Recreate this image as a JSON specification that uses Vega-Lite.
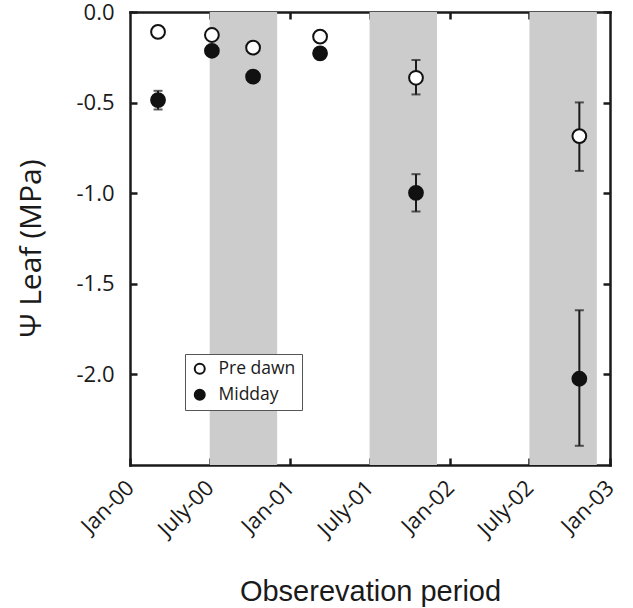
{
  "$schema": "https://vega.github.io/schema/vega-lite/v6.json",
  "width": 480,
  "height": 453,
  "autosize": {"type": "none"},
  "padding": {"left": 130, "top": 12, "right": 23, "bottom": 143},
  "background": "white",
  "config": {
    "view": {"stroke": null},
    "axis": {"labelFont": "Open Sans", "labelFontSize": 22, "labelColor": "#1a1a1a", "grid": false, "domainColor": "#1a1a1a", "domainWidth": 2.5, "domainCap": "square", "tickColor": "#1a1a1a", "tickWidth": 2.5, "tickSize": -7, "zindex": 1},
    "legend": {"labelFont": "Open Sans"}
  },
  "datasets": {
    "bands": [
      {"start": "2000-07-01", "end": "2000-12-02"},
      {"start": "2001-07-01", "end": "2001-12-02"},
      {"start": "2002-07-01", "end": "2002-12-02"}
    ],
    "points": [
      {"date": "2000-03-05", "series": "Pre dawn", "value": -0.11},
      {"date": "2000-07-06", "series": "Pre dawn", "value": -0.127},
      {"date": "2000-10-08", "series": "Pre dawn", "value": -0.197},
      {"date": "2001-03-10", "series": "Pre dawn", "value": -0.136},
      {"date": "2001-10-15", "series": "Pre dawn", "value": -0.363, "lo": -0.455, "hi": -0.265},
      {"date": "2002-10-23", "series": "Pre dawn", "value": -0.685, "lo": -0.877, "hi": -0.499},
      {"date": "2000-03-05", "series": "Midday", "value": -0.486, "lo": -0.538, "hi": -0.435},
      {"date": "2000-07-06", "series": "Midday", "value": -0.214},
      {"date": "2000-10-08", "series": "Midday", "value": -0.357},
      {"date": "2001-03-10", "series": "Midday", "value": -0.228},
      {"date": "2001-10-15", "series": "Midday", "value": -0.998, "lo": -1.101, "hi": -0.895},
      {"date": "2002-10-23", "series": "Midday", "value": -2.024, "lo": -2.394, "hi": -1.646}
    ]
  },
  "resolve": {"axis": {"x": "independent", "y": "independent"}},
  "layer": [
    {
      "data": {"name": "bands"},
      "mark": {"type": "rect", "color": "#cccccc"},
      "encoding": {
        "x": {"field": "start", "type": "temporal",
          "scale": {"type": "utc", "domain": [{"year": 2000, "month": 1, "date": 1, "utc": true}, {"year": 2003, "month": 1, "date": 1, "utc": true}]},
          "axis": {"orient": "bottom", "title": "Obserevation period",
            "values": [{"year": 2000, "month": 1, "date": 1, "utc": true}, {"year": 2000, "month": 7, "date": 1, "utc": true}, {"year": 2001, "month": 1, "date": 1, "utc": true}, {"year": 2001, "month": 7, "date": 1, "utc": true}, {"year": 2002, "month": 1, "date": 1, "utc": true}, {"year": 2002, "month": 7, "date": 1, "utc": true}, {"year": 2003, "month": 1, "date": 1, "utc": true}],
            "labelExpr": "(utcFormat(datum.value, '%m') == '07' ? 'July-' : 'Jan-') + utcFormat(datum.value, '%y')",
            "labelAngle": -45, "labelAlign": "right", "labelBaseline": "middle", "labelPadding": 26, "labelFontSize": 22,
            "titleFont": "Liberation Sans", "titleFontSize": 29, "titleFontWeight": "normal", "titleColor": "#1a1a1a",
            "titleX": 240, "titleY": 135, "titleBaseline": "alphabetic", "titleAlign": "center"}},
        "x2": {"field": "end"}
      }
    },
    {
      "data": {"name": "points"},
      "transform": [{"filter": "isValid(datum.lo)"}],
      "mark": {"type": "rule", "color": "#1a1a1a", "strokeWidth": 2},
      "encoding": {
        "x": {"field": "date", "type": "temporal",
          "axis": {"orient": "top", "labels": false, "title": null,
            "values": [{"year": 2000, "month": 7, "date": 1, "utc": true}, {"year": 2001, "month": 1, "date": 1, "utc": true}, {"year": 2001, "month": 7, "date": 1, "utc": true}, {"year": 2002, "month": 1, "date": 1, "utc": true}, {"year": 2002, "month": 7, "date": 1, "utc": true}]}},
        "y": {"field": "lo", "type": "quantitative",
          "scale": {"domain": [-2.5, 0], "nice": false, "zero": false},
          "axis": {"orient": "left", "values": [0, -0.5, -1, -1.5, -2],
            "labelExpr": "datum.value == 0 ? '0.0' : '-' + format(-datum.value, '.1f')",
            "labelPadding": 23,
            "title": "Ψ Leaf (MPa)", "titleFont": "Open Sans", "titleFontSize": 30, "titleFontWeight": "normal", "titleColor": "#1a1a1a",
            "titleAngle": -90, "titleX": -99, "titleY": 236, "titleAlign": "center", "titleBaseline": "middle"}},
        "y2": {"field": "hi"}
      }
    },
    {
      "data": {"name": "points"},
      "transform": [{"filter": "isValid(datum.lo)"}],
      "mark": {"type": "tick", "orient": "horizontal", "color": "#1a1a1a", "size": 9, "thickness": 2},
      "encoding": {
        "x": {"field": "date", "type": "temporal", "axis": null},
        "y": {"field": "lo", "type": "quantitative",
          "axis": {"orient": "right", "labels": false, "title": null, "values": [0, -0.5, -1, -1.5, -2]}}
      }
    },
    {
      "data": {"name": "points"},
      "transform": [{"filter": "isValid(datum.hi)"}],
      "mark": {"type": "tick", "orient": "horizontal", "color": "#1a1a1a", "size": 9, "thickness": 2},
      "encoding": {
        "x": {"field": "date", "type": "temporal", "axis": null},
        "y": {"field": "hi", "type": "quantitative", "axis": null}
      }
    },
    {
      "data": {"name": "points"},
      "mark": {"type": "point", "shape": "circle", "filled": false, "size": 190, "stroke": "#111111", "strokeWidth": 2, "opacity": 1},
      "encoding": {
        "x": {"field": "date", "type": "temporal", "axis": null},
        "y": {"field": "value", "type": "quantitative", "axis": null},
        "fill": {"field": "series", "type": "nominal",
          "scale": {"domain": ["Pre dawn", "Midday"], "range": ["white", "#111111"]},
          "legend": {"title": null, "orient": "none", "legendX": 55, "legendY": 342,
            "strokeColor": "#555555", "fillColor": "white", "padding": 6,
            "symbolType": "circle", "symbolSize": 100, "symbolStrokeColor": "#111111", "symbolStrokeWidth": 2,
            "labelFontSize": 17.5, "labelColor": "#1a1a1a", "labelOffset": 10, "rowPadding": 7}}
      }
    }
  ]
}
